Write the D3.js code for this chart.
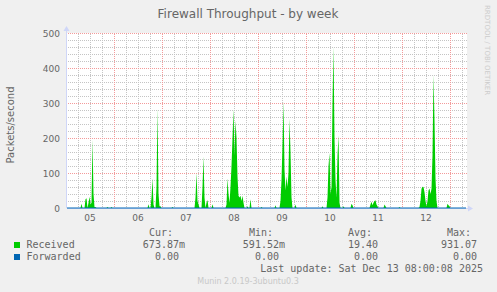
<!DOCTYPE html>
<html>
<head>
<meta charset="utf-8">
<script src="https://cdn.jsdelivr.net/npm/d3@7"></script>
<style>
  body { margin: 0; background: #f0f0f0; }
  svg { display: block; }
</style>
</head>
<body>
<div id="chart"></div>
<script>
// Received packets/second (half-hour samples, rest ~0)
const dec05 = [["07:30", 12], ["09:30", 25], ["10:00", 28], ["11:00", 15], ["11:30", 32], ["12:00", 10],
  ["12:30", 15], ["13:00", 195], ["13:30", 40], ["14:00", 3], ["14:30", 3], ["20:30", 3], ["22:30", 3]];
const dec06 = [["17:00", 11], ["18:30", 30], ["19:00", 85], ["19:30", 10], ["21:00", 60], ["21:30", 285],
  ["22:00", 40], ["22:30", 5], ["23:00", 5]];
const dec07 = [["05:00", 3], ["16:30", 30], ["17:00", 100], ["17:30", 20], ["18:00", 11], ["20:00", 60],
  ["20:30", 147], ["21:00", 30], ["22:00", 15], ["22:30", 23]];
const dec08 = [["01:00", 11], ["08:00", 10], ["08:30", 85], ["09:00", 40], ["09:30", 15], ["10:00", 60],
  ["10:30", 120], ["11:00", 200], ["11:30", 282], ["12:00", 150], ["12:30", 250], ["13:00", 200],
  ["13:30", 90], ["14:00", 35], ["14:30", 30], ["15:00", 35], ["15:30", 20], ["16:00", 35],
  ["16:30", 15], ["18:30", 5], ["20:00", 25]];
const dec09 = [["01:30", 3], ["08:30", 8], ["11:00", 20], ["11:30", 80], ["12:00", 180], ["12:30", 305],
  ["13:00", 110], ["13:30", 50], ["14:00", 90], ["14:30", 60], ["15:00", 100], ["15:30", 255],
  ["16:00", 160], ["16:30", 30], ["18:30", 10]];
const dec10 = [["08:00", 5], ["10:30", 30], ["11:00", 120], ["11:30", 157], ["12:00", 40], ["12:30", 60],
  ["13:00", 300], ["13:30", 460], ["14:00", 200], ["14:30", 80], ["15:00", 30], ["15:30", 150],
  ["16:00", 207], ["16:30", 15], ["18:30", 5], ["22:30", 12], ["23:00", 8]];
const dec11 = [["08:00", 10], ["08:30", 18], ["09:00", 8], ["09:30", 15], ["10:00", 20], ["10:30", 22],
  ["11:00", 10], ["11:30", 5], ["15:00", 10], ["15:30", 5], ["22:30", 3]];
const dec12 = [["08:30", 3], ["09:00", 20], ["09:30", 55], ["10:00", 61], ["10:30", 60], ["11:00", 45],
  ["11:30", 20], ["12:00", 5], ["12:30", 20], ["13:00", 50], ["13:30", 56], ["14:00", 40],
  ["14:30", 55], ["15:00", 150], ["15:30", 380], ["16:00", 250], ["16:30", 85], ["17:00", 20],
  ["22:30", 12], ["23:00", 8], ["23:30", 5]];
const days = [["2025-12-05", dec05], ["2025-12-06", dec06], ["2025-12-07", dec07], ["2025-12-08", dec08],
  ["2025-12-09", dec09], ["2025-12-10", dec10], ["2025-12-11", dec11], ["2025-12-12", dec12]];

const yTicks = [0, 100, 200, 300, 400, 500];
const dayLabels = ["05", "06", "07", "08", "09", "10", "11", "12"];

const legendHeads = ["Cur:", "Min:", "Avg:", "Max:"];
const receivedStats = ["673.87m", "591.52m", "19.40", "931.07"];
const forwardedStats = ["0.00", "0.00", "0.00", "0.00"];
const lastUpdate = "Last update: Sat Dec 13 08:00:08 2025";

const width = 497, height = 292;
const parse = d3.timeParse("%Y-%m-%d %H:%M");
const start = parse("2025-12-05 00:30"), end = parse("2025-12-13 08:30");

const x = d3.scaleTime().domain([start, end]).range([67, 467]);
const y = d3.scaleLinear().domain([0, 500]).range([208, 33]);

// one sample per half hour, values taken from the readings above
const readings = new Map();
days.forEach(([day, list]) => list.forEach(([hm, v]) => readings.set(+parse(day + " " + hm), v)));
const samples = d3.timeMinute.every(30).range(start, end)
  .map(t => ({ t, v: readings.get(+t) || 0 }));

const svg = d3.select("#chart").append("svg")
  .attr("width", width)
  .attr("height", height);

// dotted grid done with tiny patterns so every other pixel is lit
const defs = svg.append("defs");
const dotPattern = (id, w, h, color) => {
  defs.append("pattern")
    .attr("id", id)
    .attr("patternUnits", "userSpaceOnUse")
    .attr("width", w).attr("height", h)
    .append("rect")
    .attr("width", 1).attr("height", 1)
    .attr("fill", color);
};
dotPattern("minorH", 2, 1, "#c4c4c4");
dotPattern("minorV", 1, 2, "#c4c4c4");
dotPattern("majorH", 2, 1, "#f39a9a");
dotPattern("majorV", 1, 2, "#f39a9a");

svg.append("rect").attr("width", width).attr("height", height).attr("fill", "#f0f0f0");
svg.append("rect")
  .attr("x", 67).attr("y", 33)
  .attr("width", 400).attr("height", 175)
  .attr("fill", "#ffffff");

const grid = svg.append("g").attr("shape-rendering", "crispEdges");
const minorY = d3.range(20, 500, 20).filter(v => v % 100 !== 0);
const sixHours = d3.timeHour.every(6).range(start, end).filter(t => t.getHours() !== 0);
const midnights = d3.timeDay.range(start, end);

grid.selectAll("rect.minor-y").data(minorY).enter().append("rect")
  .attr("class", "minor-y")
  .attr("x", 67).attr("width", 400)
  .attr("y", d => Math.round(y(d))).attr("height", 1)
  .attr("fill", "url(#minorH)");
grid.selectAll("rect.minor-x").data(sixHours).enter().append("rect")
  .attr("class", "minor-x")
  .attr("x", d => Math.round(x(d))).attr("width", 1)
  .attr("y", 33).attr("height", 175)
  .attr("fill", "url(#minorV)");
grid.selectAll("rect.major-y").data(yTicks.slice(1)).enter().append("rect")
  .attr("class", "major-y")
  .attr("x", 67).attr("width", 400)
  .attr("y", d => Math.round(y(d))).attr("height", 1)
  .attr("fill", "url(#majorH)");
grid.selectAll("rect.major-x").data(midnights).enter().append("rect")
  .attr("class", "major-x")
  .attr("x", d => Math.round(x(d))).attr("width", 1)
  .attr("y", 33).attr("height", 175)
  .attr("fill", "url(#majorV)");

// received area
const area = d3.area()
  .x(d => x(d.t) + 0.5)
  .y0(y(0))
  .y1(d => y(d.v));
svg.append("path").datum(samples)
  .attr("d", area)
  .attr("fill", "#00cc00");

// axes with arrows
svg.append("line").attr("x1", 66.5).attr("x2", 66.5).attr("y1", 208).attr("y2", 29)
  .attr("stroke", "#cfd6f8");
svg.append("path").attr("d", "M63.5,31 L66.5,26 L69.5,31 Z").attr("fill", "#cfd6f8");
svg.append("line").attr("x1", 67).attr("x2", 470).attr("y1", 208.5).attr("y2", 208.5)
  .attr("stroke", "#cfd6f8");
svg.append("path").attr("d", "M468,205.5 L473,208.5 L468,211.5 Z").attr("fill", "#cfd6f8");

// forwarded line (zero)
const line = d3.line().x(d => x(d.t)).y(() => y(0));
svg.append("path").datum(samples)
  .attr("d", line)
  .attr("fill", "none")
  .attr("stroke", "#0066b3");

// tick labels
const tickFont = "DejaVu Sans";
svg.append("g").selectAll("text").data(yTicks).enter().append("text")
  .attr("x", 60).attr("y", d => y(d) + 3.5)
  .attr("text-anchor", "end")
  .attr("font-family", tickFont).attr("font-size", 9)
  .attr("fill", "#666666")
  .text(d => d);

const labelDays = d3.timeDay.range(d3.timeDay.floor(start), d3.timeDay.floor(end));
svg.append("g").selectAll("text").data(labelDays).enter().append("text")
  .attr("x", d => x(d3.timeHour.offset(d, 12)))
  .attr("y", 221)
  .attr("text-anchor", "middle")
  .attr("font-family", tickFont).attr("font-size", 9)
  .attr("fill", "#666666")
  .text((d, i) => dayLabels[i]);

// title and labels
svg.append("text")
  .attr("x", 248).attr("y", 18)
  .attr("text-anchor", "middle")
  .attr("font-family", tickFont).attr("font-size", 12)
  .attr("fill", "#666666")
  .text("Firewall Throughput - by week");

svg.append("text")
  .attr("transform", "translate(14,125) rotate(-90)")
  .attr("text-anchor", "middle")
  .attr("font-family", tickFont).attr("font-size", 10)
  .attr("fill", "#666666")
  .text("Packets/second");

svg.append("text")
  .attr("transform", "translate(485,5) rotate(90)")
  .attr("font-family", tickFont).attr("font-size", 7)
  .attr("fill", "#cccccc")
  .text("RRDTOOL / TOBI OETIKER");

// legend
const mono = "DejaVu Sans Mono";
const colRight = [185, 285, 384, 483];
const withUnit = s => /[a-zA-Z]$/.test(s);

svg.append("g").selectAll("text").data(legendHeads).enter().append("text")
  .attr("x", (d, i) => colRight[i] - 12).attr("y", 236)
  .attr("text-anchor", "end")
  .attr("font-family", mono).attr("font-size", 10)
  .attr("fill", "#666666")
  .text(d => d);

const rows = [
  { name: "Received", color: "#00cc00", stats: receivedStats, y: 248 },
  { name: "Forwarded", color: "#0066b3", stats: forwardedStats, y: 260 }
];
rows.forEach(r => {
  svg.append("rect")
    .attr("x", 14).attr("y", r.y - 6)
    .attr("width", 6).attr("height", 6)
    .attr("fill", r.color);
  svg.append("text")
    .attr("x", 26.5).attr("y", r.y)
    .attr("font-family", mono).attr("font-size", 10)
    .attr("fill", "#666666")
    .text(r.name);
  svg.append("g").selectAll("text").data(r.stats).enter().append("text")
    .attr("x", (d, i) => withUnit(d) ? colRight[i] : colRight[i] - 6)
    .attr("y", r.y)
    .attr("text-anchor", "end")
    .attr("font-family", mono).attr("font-size", 10)
    .attr("fill", "#666666")
    .text(d => d);
});

svg.append("text")
  .attr("x", 483).attr("y", 272)
  .attr("text-anchor", "end")
  .attr("font-family", mono).attr("font-size", 10)
  .attr("fill", "#666666")
  .text(lastUpdate);

svg.append("text")
  .attr("x", 248).attr("y", 284)
  .attr("text-anchor", "middle")
  .attr("font-family", tickFont).attr("font-size", 8)
  .attr("fill", "#c8c8c8")
  .text("Munin 2.0.19-3ubuntu0.3");
</script>
</body>
</html>
